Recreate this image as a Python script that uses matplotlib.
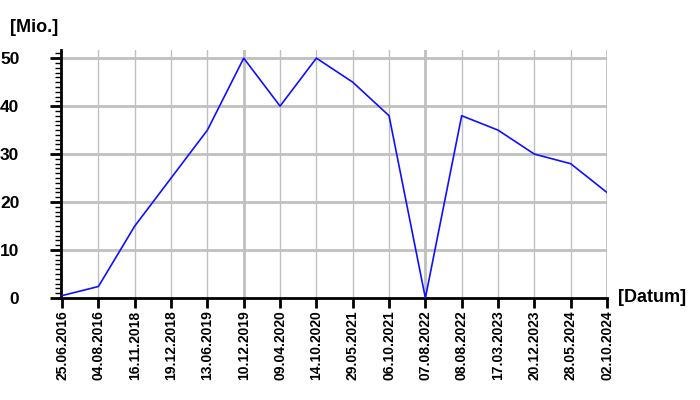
import matplotlib
matplotlib.use("Agg")
import matplotlib.pyplot as plt
from matplotlib.ticker import MultipleLocator

# data
dates = ["25.06.2016", "04.08.2016", "16.11.2018", "19.12.2018", "13.06.2019",
         "10.12.2019", "09.04.2020", "14.10.2020", "29.05.2021", "06.10.2021",
         "07.08.2022", "08.08.2022", "17.03.2023", "20.12.2023", "28.05.2024",
         "02.10.2024"]
values = [0.5, 2.4, 15, 25, 35, 50, 40, 50, 45, 38, 0, 38, 35, 30, 28, 22]
y_ticks = [0, 10, 20, 30, 40, 50]

plt.rcParams['font.family'] = ['Liberation Sans', 'DejaVu Sans']
plt.rcParams['font.weight'] = 'bold'

fig = plt.figure(figsize=(7, 4), dpi=100)
ax = fig.add_axes([61 / 700, 1 - 298 / 400, (607 - 61) / 700, (298 - 50) / 400])

x = list(range(len(dates)))
grid_col = "#c0c0c0"

# vertical grid, every fifth line thicker
for i in x[1:]:
    ax.axvline(i, color=grid_col, lw=2.0 if i % 5 == 0 else 1.0, zorder=0)
for v in y_ticks[1:]:
    ax.axhline(v, color=grid_col, lw=2.0, zorder=0)

ax.plot(x, values, color="#1010ff", lw=1.2, zorder=3)

ax.set_xlim(-0.03, len(dates) - 1)
ax.set_ylim(0, 51.7)
ax.set_xticks(x)
ax.set_xticklabels(dates, rotation=90, fontsize=10)
ax.set_yticks(y_ticks)
ax.set_yticklabels([str(v) for v in y_ticks], fontsize=12.5)
ax.yaxis.set_minor_locator(MultipleLocator(1))

for s in ["top", "right"]:
    ax.spines[s].set_visible(False)
for s in ["left", "bottom"]:
    ax.spines[s].set_linewidth(2)
    ax.spines[s].set_color("black")

ax.tick_params(axis="y", which="major", length=8, width=2, pad=22)
ax.tick_params(axis="y", which="minor", length=4, width=1)
ax.tick_params(axis="x", which="major", length=7, width=2, pad=2)

fig.text(10 / 700, 1 - 28 / 400, "[Mio.]", fontsize=13, va="center", ha="left")
fig.text(618 / 700, 1 - 298 / 400, "[Datum]", fontsize=13, va="center", ha="left")

fig.savefig("out.png", dpi=100)
